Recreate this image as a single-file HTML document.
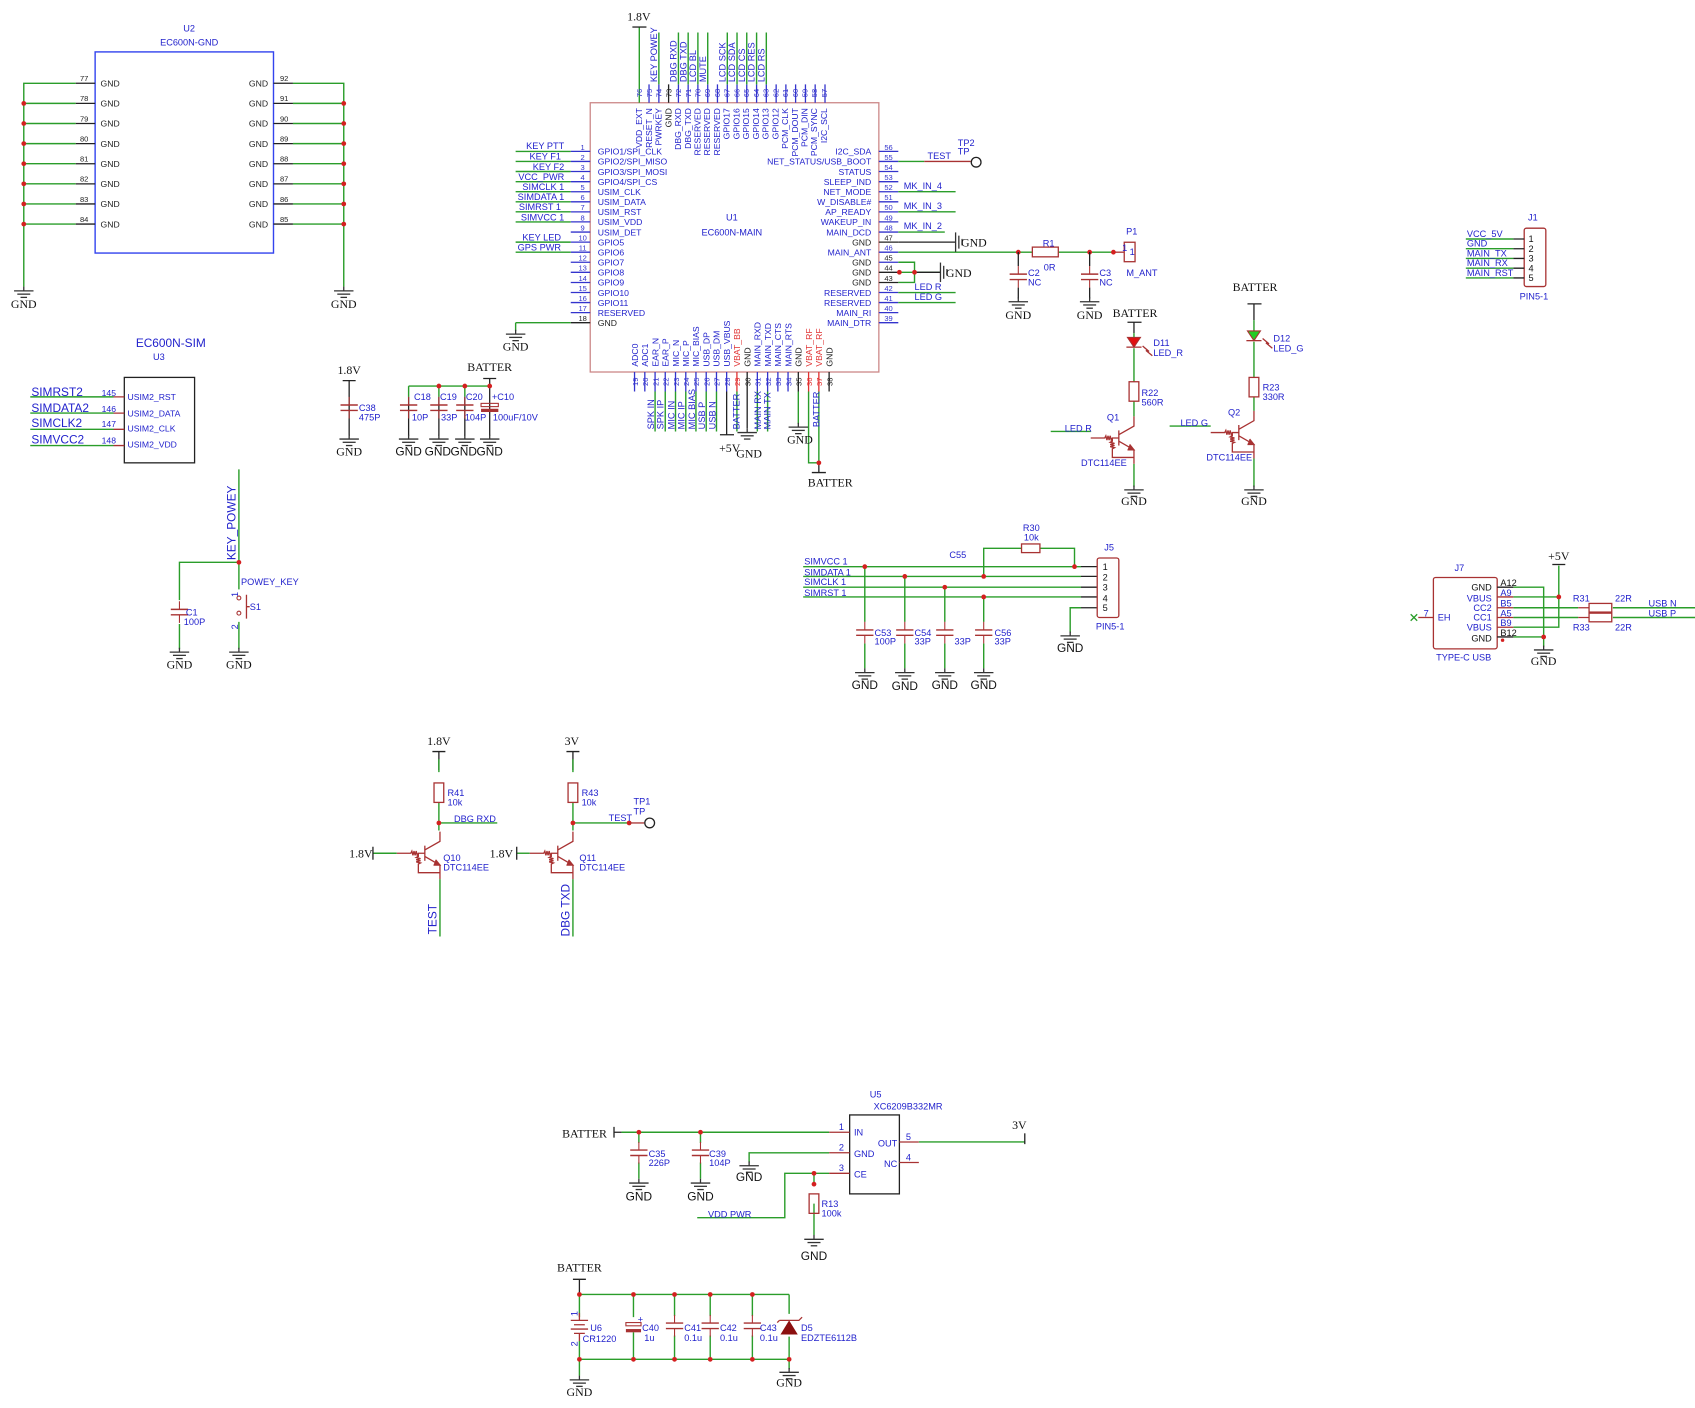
<!DOCTYPE html>
<html><head><meta charset="utf-8"><style>
html,body{margin:0;padding:0;background:#fff;width:1695px;height:1408px;overflow:hidden}
svg{display:block}
.w{stroke:#2a9d2a;stroke-width:1.3;fill:none}
.p{stroke:#3333cc;stroke-width:1.2;fill:none}
.k{stroke:#222;stroke-width:1.2;fill:none}
.r{stroke:#a83232;stroke-width:1.2;fill:none}
.rp{stroke:#e03030;stroke-width:1.2}
text{font-family:"Liberation Sans",sans-serif}
.s{font-family:"Liberation Serif",serif}
.b{fill:#2222cc}
.n{font-family:"Liberation Serif",serif;font-size:7px;fill:#3333cc}
.il{font-family:"Liberation Serif",serif;font-size:8px;fill:#2222cc}
.pw{font-family:"Liberation Serif",serif;font-size:11px;fill:#111}
.lb{font-size:8.5px;fill:#2222cc}
.nl{font-size:8.5px;fill:#2222cc}
</style></head><body>
<svg width="1695" height="1408" viewBox="0 0 1568 1302" preserveAspectRatio="none" xmlns="http://www.w3.org/2000/svg">
<defs>
<g id="g"><line x1="0" y1="-4" x2="0" y2="0" stroke="#333" stroke-width="1.2"/><line x1="-9" y1="0" x2="9" y2="0" stroke="#333" stroke-width="1.2"/><line x1="-6" y1="3" x2="6" y2="3" stroke="#333" stroke-width="1.2"/><line x1="-3" y1="6" x2="3" y2="6" stroke="#333" stroke-width="1.2"/></g>
<g id="gs"><line x1="0" y1="-9" x2="0" y2="9" stroke="#333" stroke-width="1.2"/><line x1="3" y1="-6" x2="3" y2="6" stroke="#333" stroke-width="1.2"/><line x1="6" y1="-3" x2="6" y2="3" stroke="#333" stroke-width="1.2"/></g>
<g id="c"><line x1="-8" y1="-2.5" x2="8" y2="-2.5" stroke="#a83232" stroke-width="1.3"/><line x1="-8" y1="2.5" x2="8" y2="2.5" stroke="#a83232" stroke-width="1.3"/><line x1="0" y1="-2.5" x2="0" y2="-10" stroke="#a83232"/><line x1="0" y1="2.5" x2="0" y2="10" stroke="#a83232"/></g>
<g id="rv"><rect x="-4.5" y="-9" width="9" height="18" fill="none" stroke="#a83232" stroke-width="1.2"/></g>
<g id="d"><circle r="2.2" fill="#d42020"/></g>
<g id="q" fill="none" stroke="#a83232" stroke-width="1.2">
<path d="M-40 0 H-27 l1 -2 1 4 1 -4 1 4 1 -4 1 4 1 -2 H-14"/>
<line x1="-14" y1="-7" x2="-14" y2="7"/>
<path d="M-14 -3 L0 -11 V-20"/>
<path d="M-14 3 L0 11 V24"/>
<path d="M-4 6 L0 11 L-6 11" fill="#a83232"/>
<path d="M-20 0 V3 l-2 1 4 1 -4 1 4 1 -4 1 4 1 -2 1 V18 H0"/>
</g>
</defs>

<!-- ============ U2 ============ -->
<text x="175" y="29" text-anchor="middle" class="lb">U2</text>
<text x="175" y="42" text-anchor="middle" class="lb">EC600N-GND</text>
<rect x="88" y="48" width="165" height="186" fill="none" stroke="#3344ee" stroke-width="1.3"/>
<g class="k">
<path d="M70 77H88M70 95.6H88M70 114.2H88M70 132.8H88M70 151.4H88M70 170H88M70 188.6H88M70 207.2H88"/>
<path d="M253 77H271M253 95.6H271M253 114.2H271M253 132.8H271M253 151.4H271M253 170H271M253 188.6H271M253 207.2H271"/>
</g>
<g class="w">
<path d="M22 265V77H70M22 95.6H70M22 114.2H70M22 132.8H70M22 151.4H70M22 170H70M22 188.6H70M22 207.2H70"/>
<path d="M318 265V77H271M318 95.6H271M318 114.2H271M318 132.8H271M318 151.4H271M318 170H271M318 188.6H271M318 207.2H271"/>
</g>
<g font-family="Liberation Serif" font-size="7" fill="#222">
<text x="74" y="75">77</text><text x="74" y="93.6">78</text><text x="74" y="112.2">79</text><text x="74" y="130.8">80</text><text x="74" y="149.4">81</text><text x="74" y="168">82</text><text x="74" y="186.6">83</text><text x="74" y="205.2">84</text>
<text x="259" y="75">92</text><text x="259" y="93.6">91</text><text x="259" y="112.2">90</text><text x="259" y="130.8">89</text><text x="259" y="149.4">88</text><text x="259" y="168">87</text><text x="259" y="186.6">86</text><text x="259" y="205.2">85</text>
</g>
<g font-family="Liberation Serif" font-size="8" fill="#222">
<text x="93" y="80">GND</text><text x="93" y="98.6">GND</text><text x="93" y="117.2">GND</text><text x="93" y="135.8">GND</text><text x="93" y="154.4">GND</text><text x="93" y="173">GND</text><text x="93" y="191.6">GND</text><text x="93" y="210.2">GND</text>
<text x="248" y="80" text-anchor="end">GND</text><text x="248" y="98.6" text-anchor="end">GND</text><text x="248" y="117.2" text-anchor="end">GND</text><text x="248" y="135.8" text-anchor="end">GND</text><text x="248" y="154.4" text-anchor="end">GND</text><text x="248" y="173" text-anchor="end">GND</text><text x="248" y="191.6" text-anchor="end">GND</text><text x="248" y="210.2" text-anchor="end">GND</text>
</g>
<use href="#d" x="22" y="95.6"/><use href="#d" x="22" y="114.2"/><use href="#d" x="22" y="132.8"/><use href="#d" x="22" y="151.4"/><use href="#d" x="22" y="170"/><use href="#d" x="22" y="188.6"/><use href="#d" x="22" y="207.2"/>
<use href="#d" x="318" y="95.6"/><use href="#d" x="318" y="114.2"/><use href="#d" x="318" y="132.8"/><use href="#d" x="318" y="151.4"/><use href="#d" x="318" y="170"/><use href="#d" x="318" y="188.6"/><use href="#d" x="318" y="207.2"/>
<use href="#g" x="22" y="269"/><text x="22" y="285" text-anchor="middle" class="pw">GND</text>
<use href="#g" x="318" y="269"/><text x="318" y="285" text-anchor="middle" class="pw">GND</text>

<!-- ============ U1 ============ -->
<rect x="546" y="95" width="267" height="249" fill="none" stroke="#c88" stroke-width="1.2"/>
<text x="677" y="204" text-anchor="middle" class="lb">U1</text>
<text x="677" y="218" text-anchor="middle" class="lb">EC600N-MAIN</text>
<!-- left pins -->
<g class="p"><path d="M528 140H546M528 149.3H546M528 158.6H546M528 168H546M528 177.3H546M528 186.6H546M528 195.9H546M528 205.2H546M528 214.6H546M528 223.9H546M528 233.2H546M528 242.5H546M528 251.8H546M528 261.2H546M528 270.5H546M528 279.8H546M528 289.1H546"/></g>
<path d="M528 298.4H546" class="k"/>
<g class="n" text-anchor="middle">
<text x="539" y="138.5">1</text><text x="539" y="147.8">2</text><text x="539" y="157.1">3</text><text x="539" y="166.5">4</text><text x="539" y="175.8">5</text><text x="539" y="185.1">6</text><text x="539" y="194.4">7</text><text x="539" y="203.7">8</text><text x="539" y="213.1">9</text><text x="539" y="222.4">10</text><text x="539" y="231.7">11</text><text x="539" y="241">12</text><text x="539" y="250.3">13</text><text x="539" y="259.7">14</text><text x="539" y="269">15</text><text x="539" y="278.3">16</text><text x="539" y="287.6">17</text><text x="539" y="296.9" fill="#222">18</text>
</g>
<g class="il">
<text x="553" y="143">GPIO1/SPI_CLK</text><text x="553" y="152.3">GPIO2/SPI_MISO</text><text x="553" y="161.6">GPIO3/SPI_MOSI</text><text x="553" y="171">GPIO4/SPI_CS</text><text x="553" y="180.3">USIM_CLK</text><text x="553" y="189.6">USIM_DATA</text><text x="553" y="198.9">USIM_RST</text><text x="553" y="208.2">USIM_VDD</text><text x="553" y="217.6">USIM_DET</text><text x="553" y="226.9">GPIO5</text><text x="553" y="236.2">GPIO6</text><text x="553" y="245.5">GPIO7</text><text x="553" y="254.8">GPIO8</text><text x="553" y="264.2">GPIO9</text><text x="553" y="273.5">GPIO10</text><text x="553" y="282.8">GPIO11</text><text x="553" y="292.1">RESERVED</text><text x="553" y="301.4" fill="#222">GND</text>
</g>
<g class="w"><path d="M477 140H528M477 149.3H528M477 158.6H528M477 168H528M477 177.3H528M477 186.6H528M477 195.9H528M477 205.2H528M477 223.9H528M477 233.2H528M477 298.4H528M477 298.4V306"/></g>
<g class="nl" text-anchor="end">
<text x="522" y="138">KEY PTT</text><text x="519" y="147.3">KEY F1</text><text x="522" y="157">KEY F2</text><text x="522" y="166.5">VCC_PWR</text><text x="522" y="175.5">SIMCLK 1</text><text x="522" y="185">SIMDATA 1</text><text x="519" y="194.4">SIMRST 1</text><text x="522" y="203.7">SIMVCC 1</text><text x="519" y="222.4">KEY LED</text><text x="519" y="231.7">GPS PWR</text>
</g>
<use href="#g" x="477" y="309"/><text x="477" y="324" text-anchor="middle" class="pw">GND</text>

<!-- right pins -->
<g class="p"><path d="M813 140H831M813 149.3H831M813 158.6H831M813 168H831M813 177.3H831M813 186.6H831M813 195.9H831M813 205.2H831M813 214.6H831M813 233.2H831M813 242.5H831M813 270.5H831M813 279.8H831M813 289.1H831M813 298.4H831"/></g>
<path d="M813 223.9H831M813 251.8H831M813 261.2H831" class="k"/>
<g class="n" text-anchor="middle">
<text x="822" y="138.5">56</text><text x="822" y="147.8">55</text><text x="822" y="157.1">54</text><text x="822" y="166.5">53</text><text x="822" y="175.8">52</text><text x="822" y="185.1">51</text><text x="822" y="194.4">50</text><text x="822" y="203.7">49</text><text x="822" y="213.1">48</text><text x="822" y="222.4" fill="#222">47</text><text x="822" y="231.7">46</text><text x="822" y="241" fill="#222">45</text><text x="822" y="250.3" fill="#222">44</text><text x="822" y="259.7" fill="#222">43</text><text x="822" y="269">42</text><text x="822" y="278.3">41</text><text x="822" y="287.6">40</text><text x="822" y="296.9">39</text>
</g>
<g class="il" text-anchor="end">
<text x="806" y="143">I2C_SDA</text><text x="806" y="152.3">NET_STATUS/USB_BOOT</text><text x="806" y="161.6">STATUS</text><text x="806" y="171">SLEEP_IND</text><text x="806" y="180.3">NET_MODE</text><text x="806" y="189.6">W_DISABLE#</text><text x="806" y="198.9">AP_READY</text><text x="806" y="208.2">WAKEUP_IN</text><text x="806" y="217.6">MAIN_DCD</text><text x="806" y="226.9" fill="#222">GND</text><text x="806" y="236.2">MAIN_ANT</text><text x="806" y="245.5" fill="#222">GND</text><text x="806" y="254.8" fill="#222">GND</text><text x="806" y="264.2" fill="#222">GND</text><text x="806" y="273.5">RESERVED</text><text x="806" y="282.8">RESERVED</text><text x="806" y="292.1">MAIN_RI</text><text x="806" y="301.4">MAIN_DTR</text>
</g>
<g class="w"><path d="M831 149.3H855M831 177.3H884M831 195.9H884M831 214.6H874M831 270.5H884M831 279.8H884M831 233.2H1030M831 242.5H846V261.2H831M831 251.8H870"/></g>
<path d="M855 149.3H898" class="r"/><circle cx="903" cy="150" r="4.5" fill="none" stroke="#222" stroke-width="1.2"/>
<text x="858" y="147" class="nl">TEST</text>
<text x="886" y="135" class="lb">TP2</text><text x="886" y="143" class="lb">TP</text>
<text x="836" y="175" class="nl">MK_IN_4</text><text x="836" y="193.5" class="nl">MK_IN_3</text><text x="836" y="212" class="nl">MK_IN_2</text>
<text x="846" y="268" class="nl">LED R</text><text x="846" y="277.5" class="nl">LED G</text>
<path d="M831 223.9H884" class="k"/><use href="#gs" x="884" y="223.9"/><text x="889" y="228" class="pw">GND</text>
<path d="M846 251.8H870" class="k"/><use href="#gs" x="870" y="251.8"/><text x="875" y="256" class="pw">GND</text>
<use href="#d" x="832" y="251.8"/><use href="#d" x="846" y="251.8"/>
<!-- antenna -->
<rect x="955" y="228.5" width="24" height="9" fill="#fff" stroke="#a83232" stroke-width="1.2"/>
<path d="M1030 233.2H1040" class="r"/>
<rect x="1040" y="224" width="10" height="18" fill="none" stroke="#a83232" stroke-width="1.2"/>
<use href="#d" x="942" y="233.2"/><use href="#d" x="1008" y="233.2"/><use href="#d" x="1030" y="233.2"/>
<use href="#c" x="942" y="256"/><use href="#c" x="1008" y="256"/>
<path d="M942 233V246M942 266V276M1008 233V246M1008 266V276" class="k"/>
<use href="#g" x="942" y="279"/><use href="#g" x="1008" y="279"/>
<text x="942" y="295" text-anchor="middle" class="pw">GND</text><text x="1008" y="295" text-anchor="middle" class="pw">GND</text>
<text x="970" y="228" text-anchor="middle" class="lb">R1</text><text x="971" y="250" text-anchor="middle" class="lb">0R</text>
<text x="951" y="255" class="lb">C2</text><text x="951" y="264" class="lb">NC</text>
<text x="1017" y="255" class="lb">C3</text><text x="1017" y="264" class="lb">NC</text>
<text x="1047" y="217" text-anchor="middle" class="lb">P1</text><text x="1042" y="255" class="lb">M_ANT</text>
<text x="1038" y="232" class="lb">1</text><text x="1045" y="236" class="lb">1</text>

<!-- top pins -->
<g class="p"><path d="M600.4 78V95M609.5 78V95M627.6 78V95M636.6 78V95M645.6 78V95M654.7 78V95M663.7 78V95M672.8 78V95M681.8 78V95M690.8 78V95M699.9 78V95M708.9 78V95M718 78V95M727 78V95M736 78V95M745.1 78V95M754.1 78V95M763.2 78V95"/></g>
<path d="M618.5 78V95" class="k"/>
<path d="M591.4 25V95" class="w"/><path d="M585 25H598" class="k"/>
<text x="591" y="19" text-anchor="middle" class="pw">1.8V</text>
<g class="w"><path d="M609.5 30V78M627.6 30V78M636.6 30V78M645.6 30V78M654.7 30V78M672.8 30V78M681.8 30V78M690.8 30V78M699.9 30V78M708.9 30V78"/></g>
<g class="n" text-anchor="middle">
<text transform="translate(594,86) rotate(-90)">76</text><text transform="translate(603,86) rotate(-90)">75</text><text transform="translate(612,86) rotate(-90)">74</text><text transform="translate(621,86) rotate(-90)" fill="#222">73</text><text transform="translate(630,86) rotate(-90)">72</text><text transform="translate(639,86) rotate(-90)">71</text><text transform="translate(648,86) rotate(-90)">70</text><text transform="translate(657,86) rotate(-90)">69</text><text transform="translate(666,86) rotate(-90)">68</text><text transform="translate(675,86) rotate(-90)">67</text><text transform="translate(684,86) rotate(-90)">66</text><text transform="translate(693,86) rotate(-90)">65</text><text transform="translate(702,86) rotate(-90)">64</text><text transform="translate(711,86) rotate(-90)">63</text><text transform="translate(720,86) rotate(-90)">62</text><text transform="translate(729,86) rotate(-90)">61</text><text transform="translate(738,86) rotate(-90)">60</text><text transform="translate(747,86) rotate(-90)">59</text><text transform="translate(756,86) rotate(-90)">58</text><text transform="translate(765,86) rotate(-90)">57</text>
</g>
<g class="il" text-anchor="end">
<text transform="translate(594,100) rotate(-90)">VDD_EXT</text><text transform="translate(603,100) rotate(-90)">RESET_N</text><text transform="translate(612,100) rotate(-90)">PWRKEY</text><text transform="translate(621,100) rotate(-90)" fill="#222">GND</text><text transform="translate(630,100) rotate(-90)">DBG_RXD</text><text transform="translate(639,100) rotate(-90)">DBG_TXD</text><text transform="translate(648,100) rotate(-90)">RESERVED</text><text transform="translate(657,100) rotate(-90)">RESERVED</text><text transform="translate(666,100) rotate(-90)">RESERVED</text><text transform="translate(675,100) rotate(-90)">GPIO17</text><text transform="translate(684,100) rotate(-90)">GPIO16</text><text transform="translate(693,100) rotate(-90)">GPIO15</text><text transform="translate(702,100) rotate(-90)">GPIO14</text><text transform="translate(711,100) rotate(-90)">GPIO13</text><text transform="translate(720,100) rotate(-90)">GPIO12</text><text transform="translate(729,100) rotate(-90)">PCM_CLK</text><text transform="translate(738,100) rotate(-90)">PCM_DOUT</text><text transform="translate(747,100) rotate(-90)">PCM_DIN</text><text transform="translate(756,100) rotate(-90)">PCM_SYNC</text><text transform="translate(765,100) rotate(-90)">I2C_SCL</text>
</g>
<g class="nl">
<text transform="translate(608,76) rotate(-90)">KEY POWEY</text><text transform="translate(626,76) rotate(-90)">DBG RXD</text><text transform="translate(635,76) rotate(-90)">DBG TXD</text><text transform="translate(644,76) rotate(-90)">LCD BL</text><text transform="translate(653,76) rotate(-90)">MUTE</text><text transform="translate(671,76) rotate(-90)">LCD SCK</text><text transform="translate(680,76) rotate(-90)">LCD SDA</text><text transform="translate(689,76) rotate(-90)">LCD CS</text><text transform="translate(698,76) rotate(-90)">LCD RES</text><text transform="translate(707,76) rotate(-90)">LCD RS</text>
</g>

<!-- bottom pins -->
<g class="p"><path d="M587 344V362M596.5 344V362M606 344V362M615.4 344V362M624.9 344V362M634.4 344V362M643.8 344V362M653.3 344V362M662.8 344V362M672.2 344V362M700.6 344V362M710.1 344V362M719.6 344V362M729 344V362"/></g>
<path d="M681.7 344V362M748 344V362M757.5 344V362" class="rp"/>
<path d="M691.2 344V362M738.5 344V362M767 344V362" class="k"/>
<g class="n" text-anchor="middle">
<text transform="translate(590,353) rotate(-90)">19</text><text transform="translate(599.5,353) rotate(-90)">20</text><text transform="translate(609,353) rotate(-90)">21</text><text transform="translate(618.4,353) rotate(-90)">22</text><text transform="translate(627.9,353) rotate(-90)">23</text><text transform="translate(637.4,353) rotate(-90)">24</text><text transform="translate(646.8,353) rotate(-90)">25</text><text transform="translate(656.3,353) rotate(-90)">26</text><text transform="translate(665.8,353) rotate(-90)">27</text><text transform="translate(675.2,353) rotate(-90)">28</text><text transform="translate(684.7,353) rotate(-90)" fill="#e03030">29</text><text transform="translate(694.2,353) rotate(-90)" fill="#222">30</text><text transform="translate(703.6,353) rotate(-90)">31</text><text transform="translate(713.1,353) rotate(-90)">32</text><text transform="translate(722.6,353) rotate(-90)">33</text><text transform="translate(732,353) rotate(-90)">34</text><text transform="translate(741.5,353) rotate(-90)" fill="#222">35</text><text transform="translate(751,353) rotate(-90)" fill="#e03030">36</text><text transform="translate(760.5,353) rotate(-90)" fill="#e03030">37</text><text transform="translate(770,353) rotate(-90)" fill="#222">38</text>
</g>
<g class="il">
<text transform="translate(590,339) rotate(-90)">ADC0</text><text transform="translate(599.5,339) rotate(-90)">ADC1</text><text transform="translate(609,339) rotate(-90)">EAR_N</text><text transform="translate(618.4,339) rotate(-90)">EAR_P</text><text transform="translate(627.9,339) rotate(-90)">MIC_N</text><text transform="translate(637.4,339) rotate(-90)">MIC_P</text><text transform="translate(646.8,339) rotate(-90)">MIC_BIAS</text><text transform="translate(656.3,339) rotate(-90)">USB_DP</text><text transform="translate(665.8,339) rotate(-90)">USB_DM</text><text transform="translate(675.2,339) rotate(-90)">USB_VBUS</text><text transform="translate(684.7,339) rotate(-90)" fill="#e03030">VBAT_BB</text><text transform="translate(694.2,339) rotate(-90)" fill="#222">GND</text><text transform="translate(703.6,339) rotate(-90)">MAIN_RXD</text><text transform="translate(713.1,339) rotate(-90)">MAIN_TXD</text><text transform="translate(722.6,339) rotate(-90)">MAIN_CTS</text><text transform="translate(732,339) rotate(-90)">MAIN_RTS</text><text transform="translate(741.5,339) rotate(-90)" fill="#222">GND</text><text transform="translate(751,339) rotate(-90)" fill="#e03030">VBAT_RF</text><text transform="translate(760.5,339) rotate(-90)" fill="#e03030">VBAT_RF</text><text transform="translate(770,339) rotate(-90)" fill="#222">GND</text>
</g>
<g class="w"><path d="M606 362V399M615.4 362V399M624.9 362V399M634.4 362V399M643.8 362V399M653.3 362V399M662.8 362V399M681.7 362V399M700.6 362V399M710.1 362V399M738.5 362V392M748 362V428H757.5M757.5 362V428"/></g>
<path d="M672.2 362V402M666 402H679M691.2 362V396" class="k"/>
<use href="#g" x="691.2" y="400"/><use href="#g" x="738.5" y="395"/>
<path d="M757.5 428V437M751 437H764" class="k"/><use href="#d" x="757.5" y="428"/>
<g class="nl">
<text transform="translate(605,397) rotate(-90)">SPK IN</text><text transform="translate(614,397) rotate(-90)">SPK IP</text><text transform="translate(624,397) rotate(-90)">MIC IN</text><text transform="translate(633,397) rotate(-90)">MIC IP</text><text transform="translate(643,397) rotate(-90)">MIC BIAS</text><text transform="translate(652,397) rotate(-90)">USB P</text><text transform="translate(662,397) rotate(-90)">USB N</text><text transform="translate(684,397) rotate(-90)">BATTER</text><text transform="translate(704,397) rotate(-90)">MAIN RX</text><text transform="translate(713,397) rotate(-90)">MAIN TX</text><text transform="translate(758,395) rotate(-90)">BATTER</text>
</g>
<text x="675" y="418" text-anchor="middle" class="pw">+5V</text><text x="693" y="423" text-anchor="middle" class="pw">GND</text>
<text x="740" y="410" text-anchor="middle" class="pw">GND</text><text x="768" y="450" text-anchor="middle" class="pw">BATTER</text>

<!-- J1 -->
<text x="1418" y="204" text-anchor="middle" class="lb">J1</text>
<rect x="1410" y="211" width="20" height="54" rx="2" fill="none" stroke="#a83232" stroke-width="1.2"/>
<g class="w"><path d="M1356 221H1400M1356 230H1400M1356 239H1400M1356 248H1400M1356 257H1400"/></g>
<g class="k"><path d="M1400 221H1410M1400 230H1410M1400 239H1410M1400 248H1410M1400 257H1410"/></g>
<g font-size="8.5" fill="#111"><text x="1414" y="224">1</text><text x="1414" y="233">2</text><text x="1414" y="242">3</text><text x="1414" y="251">4</text><text x="1414" y="260">5</text></g>
<g class="nl" font-size="8"><text x="1357" y="219">VCC_5V</text><text x="1357" y="228">GND</text><text x="1357" y="237">MAIN_TX</text><text x="1357" y="246">MAIN_RX</text><text x="1357" y="255">MAIN_RST</text></g>
<text x="1419" y="277" text-anchor="middle" class="lb">PIN5-1</text>

<!-- LED R -->
<text x="1050" y="293" text-anchor="middle" class="pw">BATTER</text>
<path d="M1043 298H1056M1049 298V308" class="k"/>
<path d="M1049 308V312M1049 322V353M1049 371V385" class="w"/>
<path d="M1043 312H1055L1049 321Z" fill="#e01010" stroke="#a83232"/><path d="M1042 321H1056" class="r"/>
<path d="M1057 320l6 5M1060 324l6 5" class="r"/>
<use href="#rv" x="1049" y="362"/>
<use href="#q" x="1049" y="405"/>
<path d="M972 399H1009" class="w"/>
<path d="M1049 429V450" class="w"/>
<use href="#g" x="1049" y="453"/><text x="1049" y="467" text-anchor="middle" class="pw">GND</text>
<text x="1067" y="320" class="lb">D11</text><text x="1067" y="329" class="lb">LED_R</text>
<text x="1056" y="366" class="lb">R22</text><text x="1056" y="375" class="lb">560R</text>
<text x="1024" y="389" class="lb">Q1</text><text x="1000" y="431" class="lb">DTC114EE</text>
<text x="985" y="399" class="nl">LED R</text>
<!-- LED G -->
<text x="1161" y="269" text-anchor="middle" class="pw">BATTER</text>
<path d="M1154 281H1167M1160 281V296" class="k"/>
<path d="M1160 296V306M1160 316V349M1160 367V380" class="w"/>
<path d="M1154 306H1166L1160 315Z" fill="#22cc22" stroke="#a83232"/><path d="M1153 315H1167" class="r"/>
<path d="M1168 313l6 5M1171 317l6 5" class="r"/>
<use href="#rv" x="1160" y="358"/>
<use href="#q" x="1160" y="400"/>
<path d="M1082 394H1120" class="w"/>
<path d="M1160 424V450" class="w"/>
<use href="#g" x="1160" y="453"/><text x="1160" y="467" text-anchor="middle" class="pw">GND</text>
<text x="1178" y="316" class="lb">D12</text><text x="1178" y="325" class="lb">LED_G</text>
<text x="1168" y="361" class="lb">R23</text><text x="1168" y="370" class="lb">330R</text>
<text x="1136" y="384" class="lb">Q2</text><text x="1116" y="426" class="lb">DTC114EE</text>
<text x="1092" y="394" class="nl">LED G</text>

<!-- U3 -->
<text x="158" y="321" text-anchor="middle" font-size="11" fill="#2222cc">EC600N-SIM</text>
<text x="147" y="333" text-anchor="middle" class="lb">U3</text>
<rect x="115" y="349" width="65" height="79" fill="none" stroke="#222" stroke-width="1.2"/>
<path d="M28 367H105M28 382H105M28 397H105M28 412H105" class="w"/>
<path d="M105 367H115M105 382H115M105 397H115M105 412H115" class="r"/>
<g font-size="11" fill="#2222cc"><text x="29" y="366">SIMRST2</text><text x="29" y="381">SIMDATA2</text><text x="29" y="395">SIMCLK2</text><text x="29" y="410">SIMVCC2</text></g>
<g font-size="8" fill="#2222cc"><text x="94" y="366">145</text><text x="94" y="381">146</text><text x="94" y="395">147</text><text x="94" y="410">148</text></g>
<g font-size="8" fill="#2222cc"><text x="118" y="370">USIM2_RST</text><text x="118" y="385">USIM2_DATA</text><text x="118" y="399">USIM2_CLK</text><text x="118" y="414">USIM2_VDD</text></g>

<!-- KEY POWEY -->
<path d="M221 434V520H166V555M166 577V600M221 520V545M221 575V600" class="w"/>
<use href="#d" x="221" y="520"/>
<text transform="translate(218,518) rotate(-90)" font-size="11" fill="#2222cc">KEY_POWEY</text>
<use href="#c" x="166" y="566"/>
<text x="172" y="569" class="lb">C1</text><text x="170" y="578" class="lb">100P</text>
<circle cx="221" cy="553" r="1.8" fill="none" stroke="#a83232"/><circle cx="221" cy="567" r="1.8" fill="none" stroke="#a83232"/>
<path d="M228 550V572M228 561H231" class="r" stroke-width="1.6"/>
<text x="223" y="541" class="lb">POWEY_KEY</text><text x="231" y="564" class="lb">S1</text>
<text transform="translate(220,552) rotate(-90)" class="lb">1</text><text transform="translate(220,582) rotate(-90)" class="lb">2</text>
<use href="#g" x="166" y="603"/><use href="#g" x="221" y="603"/>
<text x="166" y="618" text-anchor="middle" class="pw">GND</text><text x="221" y="618" text-anchor="middle" class="pw">GND</text>

<!-- C38 & caps -->
<text x="323" y="346" text-anchor="middle" class="pw">1.8V</text>
<path d="M317 352H329M323 352V403" class="k"/><use href="#c" x="323" y="377"/>
<use href="#g" x="323" y="406"/><text x="323" y="421" text-anchor="middle" class="pw">GND</text>
<text x="332" y="380" class="lb">C38</text><text x="332" y="389" class="lb">475P</text>
<text x="453" y="343" text-anchor="middle" class="pw">BATTER</text>
<path d="M447 350H459M453 350V357" class="k"/>
<path d="M378 357H453M378 357V367M406 357V367M430 357V367" class="w"/>
<path d="M378 367V403M406 367V403M430 367V403M453 357V403" class="k"/>
<use href="#c" x="378" y="377"/><use href="#c" x="406" y="377"/><use href="#c" x="430" y="377"/>
<rect x="445" y="373" width="16" height="3" fill="none" stroke="#a83232"/><rect x="445" y="378" width="16" height="3" fill="#a83232"/>
<use href="#d" x="406" y="357"/><use href="#d" x="430" y="357"/><use href="#d" x="453" y="357"/>
<use href="#g" x="378" y="406"/><use href="#g" x="406" y="406"/><use href="#g" x="430" y="406"/><use href="#g" x="453" y="406"/>
<g class="pw" text-anchor="middle"><text x="378" y="421">GND</text><text x="405" y="421">GND</text><text x="429" y="421">GND</text><text x="453" y="421">GND</text></g>
<text x="383" y="370" class="lb">C18</text><text x="381" y="389" class="lb">10P</text>
<text x="407" y="370" class="lb">C19</text><text x="408" y="389" class="lb">33P</text>
<text x="431" y="370" class="lb">C20</text><text x="430" y="389" class="lb">104P</text>
<text x="455" y="370" class="lb">+C10</text><text x="456" y="389" class="lb">100uF/10V</text>

<!-- J5 -->
<path d="M743 524H1000M743 533H1000M743 543H1000M743 552H1000M910 533V507H945M962 507H994V524M1000 562H990V585" class="w"/>
<path d="M1000 524H1015M1000 533H1015M1000 543H1015M1000 552H1015M1000 562H1015" class="k"/>
<rect x="945" y="503" width="17" height="8" fill="none" stroke="#a83232" stroke-width="1.2"/>
<rect x="1015" y="516" width="20" height="55" rx="2" fill="none" stroke="#a83232" stroke-width="1.2"/>
<g font-size="8.5" fill="#111"><text x="1020" y="527">1</text><text x="1020" y="537">2</text><text x="1020" y="546">3</text><text x="1020" y="556">4</text><text x="1020" y="565">5</text></g>
<g class="nl"><text x="744" y="522">SIMVCC 1</text><text x="744" y="532">SIMDATA 1</text><text x="744" y="541">SIMCLK 1</text><text x="744" y="551">SIMRST 1</text></g>
<path d="M800 524V575M837 533V575M874 543V575M910 552V575M800 595V618M837 595V618M874 595V618M910 595V618" class="w"/>
<use href="#c" x="800" y="585"/><use href="#c" x="837" y="585"/><use href="#c" x="874" y="585"/><use href="#c" x="910" y="585"/>
<use href="#d" x="800" y="524"/><use href="#d" x="837" y="533"/><use href="#d" x="874" y="543"/><use href="#d" x="910" y="552"/><use href="#d" x="910" y="533"/><use href="#d" x="994" y="524"/>
<use href="#g" x="800" y="622"/><use href="#g" x="837" y="622"/><use href="#g" x="874" y="622"/><use href="#g" x="910" y="622"/><use href="#g" x="990" y="588"/>
<g class="pw" text-anchor="middle"><text x="800" y="637">GND</text><text x="837" y="638">GND</text><text x="874" y="637">GND</text><text x="910" y="637">GND</text><text x="990" y="603">GND</text></g>
<text x="886" y="516" text-anchor="middle" class="lb">C55</text>
<text x="954" y="491" text-anchor="middle" class="lb">R30</text><text x="954" y="500" text-anchor="middle" class="lb">10k</text>
<text x="1026" y="509" text-anchor="middle" class="lb">J5</text><text x="1027" y="582" text-anchor="middle" class="lb">PIN5-1</text>
<text x="809" y="588" class="lb">C53</text><text x="809" y="596" class="lb">100P</text>
<text x="846" y="588" class="lb">C54</text><text x="846" y="596" class="lb">33P</text>
<text x="883" y="596" class="lb">33P</text>
<text x="920" y="588" class="lb">C56</text><text x="920" y="596" class="lb">33P</text>

<!-- J7 -->
<text x="1350" y="528" text-anchor="middle" class="lb">J7</text>
<rect x="1326" y="534" width="59" height="66" rx="2" fill="none" stroke="#a83232" stroke-width="1.2"/>
<g font-size="8.5" text-anchor="end"><text x="1380" y="546" fill="#111">GND</text><text x="1380" y="556" fill="#2222cc">VBUS</text><text x="1380" y="565" fill="#2222cc">CC2</text><text x="1380" y="574" fill="#2222cc">CC1</text><text x="1380" y="583" fill="#2222cc">VBUS</text><text x="1380" y="593" fill="#111">GND</text></g>
<path d="M1385 543H1400M1385 589H1400" class="k"/><path d="M1385 552H1400M1385 562H1400M1385 571H1400M1385 580H1400" class="r"/>
<g font-size="8.5"><text x="1388" y="542" fill="#111">A12</text><text x="1388" y="551" fill="#2222cc">A9</text><text x="1388" y="561" fill="#2222cc">B5</text><text x="1388" y="570" fill="#2222cc">A5</text><text x="1388" y="579" fill="#2222cc">B9</text><text x="1388" y="588" fill="#111">B12</text></g>
<path d="M1400 543H1428V598M1400 589H1428M1400 552H1442M1400 580H1442V523M1400 562H1460M1400 571H1460M1492 562H1568M1492 571H1568" class="w"/>
<path d="M1460 562H1470M1460 571H1470" class="r"/>
<rect x="1470" y="558" width="21" height="8" fill="none" stroke="#a83232" stroke-width="1.2"/><rect x="1470" y="567" width="21" height="8" fill="none" stroke="#a83232" stroke-width="1.2"/>
<path d="M1436 522H1448" class="k"/>
<use href="#d" x="1442" y="552"/><use href="#d" x="1428" y="589"/><circle cx="1390" cy="592" r="1.6" fill="#d42020"/>
<use href="#g" x="1428" y="601"/><text x="1428" y="615" text-anchor="middle" class="pw">GND</text>
<text x="1442" y="518" text-anchor="middle" class="pw">+5V</text>
<text x="1455" y="556" class="lb">R31</text><text x="1455" y="583" class="lb">R33</text><text x="1494" y="556" class="lb">22R</text><text x="1494" y="583" class="lb">22R</text>
<text x="1525" y="561" class="nl">USB N</text><text x="1525" y="570" class="nl">USB P</text>
<path d="M1312 571H1326" class="r"/><path d="M1305 568l6 6M1311 568l-6 6" stroke="#2a9d2a" stroke-width="1.2"/>
<text x="1317" y="570" class="lb">7</text><text x="1330" y="574" class="lb">EH</text>
<text x="1354" y="611" text-anchor="middle" class="lb">TYPE-C USB</text>

<!-- Q10 -->
<text x="406" y="689" text-anchor="middle" class="pw">1.8V</text>
<path d="M400 695H412M406 695V712" class="k"/><path d="M406 702V714M406 742V768M406 761H460" class="w"/>
<use href="#rv" x="406" y="733"/>
<use href="#d" x="406" y="761"/>
<use href="#q" x="407" y="789"/>
<path d="M345 789H367" class="w"/><path d="M345 783V795" class="k"/>
<text x="323" y="793" class="pw">1.8V</text>
<path d="M407 813V866" class="w"/>
<text x="420" y="760" class="nl">DBG RXD</text>
<text x="414" y="736" class="lb">R41</text><text x="414" y="745" class="lb">10k</text>
<text x="410" y="796" class="lb">Q10</text><text x="410" y="805" class="lb">DTC114EE</text>
<text transform="translate(404,864) rotate(-90)" font-size="11" fill="#2222cc">TEST</text>
<!-- Q11 -->
<text x="529" y="689" text-anchor="middle" class="pw">3V</text>
<path d="M524 695H536M530 695V712" class="k"/><path d="M530 702V714M530 742V768M530 761H584" class="w"/>
<use href="#rv" x="530" y="733"/>
<use href="#d" x="530" y="761"/><use href="#d" x="582" y="761"/>
<path d="M582 761H596" class="r"/><circle cx="601" cy="761" r="4.5" fill="none" stroke="#222" stroke-width="1.2"/>
<use href="#q" x="530" y="789"/>
<path d="M478 789H490" class="w"/><path d="M478 783V795" class="k"/>
<text x="453" y="793" class="pw">1.8V</text>
<path d="M530 813V866" class="w"/>
<text x="563" y="759" class="nl">TEST</text>
<text x="586" y="744" class="lb">TP1</text><text x="586" y="753" class="lb">TP</text>
<text x="538" y="736" class="lb">R43</text><text x="538" y="745" class="lb">10k</text>
<text x="536" y="796" class="lb">Q11</text><text x="536" y="805" class="lb">DTC114EE</text>
<text transform="translate(527,866) rotate(-90)" font-size="11" fill="#2222cc">DBG TXD</text>

<!-- U5 -->
<text x="810" y="1015" text-anchor="middle" class="lb">U5</text><text x="840" y="1026" text-anchor="middle" class="lb">XC6209B332MR</text>
<rect x="786" y="1031" width="46" height="73" fill="none" stroke="#222" stroke-width="1.2"/>
<path d="M767 1047H786M767 1066H786M767 1085H786M832 1056H850M832 1075H850" class="r"/>
<g font-size="8.5" fill="#2222cc"><text x="790" y="1050">IN</text><text x="790" y="1070">GND</text><text x="790" y="1089">CE</text><text x="830" y="1060" text-anchor="end">OUT</text><text x="830" y="1079" text-anchor="end">NC</text>
<text x="776" y="1045">1</text><text x="776" y="1064">2</text><text x="776" y="1083">3</text><text x="838" y="1054">5</text><text x="838" y="1073">4</text></g>
<text x="520" y="1052" class="pw">BATTER</text>
<path d="M568 1042V1052M568 1047H575" class="k"/>
<path d="M575 1047H767M591 1047V1057M648 1047V1057M591 1075V1090M648 1075V1090M767 1066H693V1075M767 1085H726V1126H645M753 1085V1094M753 1113V1142M850 1056H948" class="w"/>
<path d="M948 1048V1058" class="k"/>
<use href="#c" x="591" y="1066"/><use href="#c" x="648" y="1066"/>
<use href="#d" x="591" y="1047"/><use href="#d" x="648" y="1047"/><use href="#d" x="753" y="1085"/><use href="#d" x="753" y="1095"/>
<use href="#rv" x="753" y="1113"/>
<use href="#g" x="591" y="1094"/><use href="#g" x="648" y="1094"/><use href="#g" x="693" y="1078"/><use href="#g" x="753" y="1146"/>
<g class="pw" text-anchor="middle"><text x="591" y="1110">GND</text><text x="648" y="1110">GND</text><text x="693" y="1092">GND</text><text x="753" y="1165">GND</text></g>
<text x="943" y="1044" text-anchor="middle" class="pw">3V</text>
<text x="600" y="1070" class="lb">C35</text><text x="600" y="1078" class="lb">226P</text>
<text x="656" y="1070" class="lb">C39</text><text x="656" y="1078" class="lb">104P</text>
<text x="760" y="1116" class="lb">R13</text><text x="760" y="1125" class="lb">100k</text>
<text x="655" y="1126" class="nl">VDD PWR</text>

<!-- battery section -->
<text x="536" y="1176" text-anchor="middle" class="pw">BATTER</text>
<path d="M530 1183H542M536 1183V1197" class="k"/>
<path d="M536 1197H730M536 1257H730M586 1197V1218M586 1232V1257M624 1197V1217M624 1235V1257M657 1197V1217M657 1235V1257M696 1197V1217M696 1235V1257M730 1197V1215M730 1236V1257M536 1197V1218M536 1240V1257M536 1257V1272M730 1257V1266" class="w"/>
<path d="M528 1221H544M531 1225H541M528 1229H544M531 1233H541" class="r" stroke-width="1.5"/>
<path d="M536 1214V1221M536 1233V1240" class="r"/>
<rect x="579" y="1223" width="14" height="3" fill="none" stroke="#a83232"/><rect x="579" y="1229" width="14" height="3" fill="#a83232"/>
<use href="#c" x="624" y="1226"/><use href="#c" x="657" y="1226"/><use href="#c" x="696" y="1226"/>
<path d="M722 1234H738L730 1221Z" fill="#8b1010"/><path d="M721 1221H739l3 -3M721 1221l-2 2" class="r"/>
<use href="#d" x="536" y="1197"/><use href="#d" x="586" y="1197"/><use href="#d" x="624" y="1197"/><use href="#d" x="657" y="1197"/><use href="#d" x="696" y="1197"/>
<use href="#d" x="536" y="1257"/><use href="#d" x="586" y="1257"/><use href="#d" x="624" y="1257"/><use href="#d" x="657" y="1257"/><use href="#d" x="696" y="1257"/><use href="#d" x="730" y="1257"/>
<use href="#g" x="536" y="1276"/><use href="#g" x="730" y="1269"/>
<text x="536" y="1291" text-anchor="middle" class="pw">GND</text><text x="730" y="1282" text-anchor="middle" class="pw">GND</text>
<text transform="translate(534,1217) rotate(-90)" class="lb">1</text><text transform="translate(534,1245) rotate(-90)" class="lb">2</text>
<text x="590" y="1223" class="lb">+</text>
<text x="546" y="1231" class="lb">U6</text><text x="539" y="1241" class="lb">CR1220</text>
<text x="594" y="1231" class="lb">C40</text><text x="596" y="1240" class="lb">1u</text>
<text x="633" y="1231" class="lb">C41</text><text x="633" y="1240" class="lb">0.1u</text>
<text x="666" y="1231" class="lb">C42</text><text x="666" y="1240" class="lb">0.1u</text>
<text x="703" y="1231" class="lb">C43</text><text x="703" y="1240" class="lb">0.1u</text>
<text x="741" y="1231" class="lb">D5</text><text x="741" y="1240" class="lb">EDZTE6112B</text>
</svg>
</body></html>
